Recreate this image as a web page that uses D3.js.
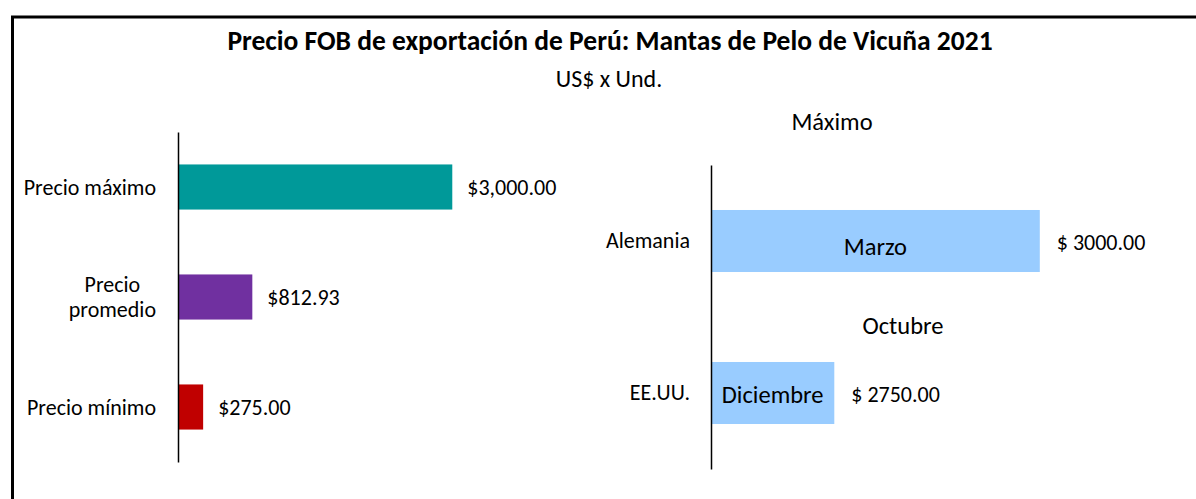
<!DOCTYPE html>
<html>
<head>
<meta charset="utf-8">
<script src="https://cdn.jsdelivr.net/npm/d3@7"></script>
<style>
  body { margin: 0; background: #fff; }
  text { font-family: Carlito, Lato, "Open Sans", sans-serif; fill: #000; }
</style>
</head>
<body>
<div id="chart"></div>
<script>
// panel izquierdo: precios
var precios = ["Precio máximo", "Precio promedio", "Precio mínimo"];
var preciosVal = [3000, 812.93, 275];
var preciosCol = ["#009999", "#7030A0", "#C00000"];
var preciosTxt = ["$3,000.00", "$812.93", "$275.00"];

// panel derecho: máximo por país
var paises = ["Alemania", "EE.UU."];
var paisesVal = [3000, 2750];
var paisesMes = ["Marzo", "Diciembre"];
var paisesTxt = ["$ 3000.00", "$ 2750.00"];
var mesExtra = "Octubre";

var width = 1196, height = 499;
var fs = 22;     // etiquetas
var fsMes = 24.5; // meses y subtitulo del panel

var svg = d3.select("#chart")
  .append("svg")
  .attr("width", width)
  .attr("height", height);

// marco
svg.append("rect")
  .attr("x", 12.5).attr("y", 17)
  .attr("width", width + 20).attr("height", height)
  .attr("fill", "none")
  .attr("stroke", "#000")
  .attr("stroke-width", 3);

svg.append("text")
  .attr("x", 610).attr("y", 40)
  .attr("dy", "0.35em")
  .attr("text-anchor", "middle")
  .style("font-weight", "bold")
  .style("font-size", "27.5px")
  .text("Precio FOB de exportación de Perú: Mantas de Pelo de Vicuña 2021");

svg.append("text")
  .attr("x", 609).attr("y", 79)
  .attr("dy", "0.35em")
  .attr("text-anchor", "middle")
  .style("font-size", "24px")
  .text("US$ x Und.");

// ---- izquierda
var x1 = d3.scaleLinear().domain([0, 3500]).range([178, 498]);
var y1 = d3.scaleBand().domain(precios).range([132, 462])
  .paddingInner(0.59).paddingOuter(0.295);

svg.selectAll(".barP")
  .data(precios)
  .enter().append("rect")
  .attr("class", "barP")
  .attr("x", x1(0))
  .attr("y", d => y1(d))
  .attr("width", (d, i) => x1(preciosVal[i]) - x1(0))
  .attr("height", y1.bandwidth())
  .attr("fill", (d, i) => preciosCol[i]);

svg.selectAll(".valP")
  .data(precios)
  .enter().append("text")
  .attr("class", "valP")
  .attr("x", (d, i) => x1(preciosVal[i]) + 15)
  .attr("y", d => y1(d) + y1.bandwidth() / 2)
  .attr("dy", "0.35em")
  .style("font-size", fs + "px")
  .text((d, i) => preciosTxt[i]);

var axL = svg.append("g")
  .attr("transform", "translate(" + x1(0) + ",0)")
  .call(d3.axisLeft(y1).tickSize(0).tickSizeOuter(0).tickFormat(""));
axL.select(".domain").attr("stroke", "#000").attr("stroke-width", 1.5);

// etiquetas con salto de linea (Precio / promedio)
precios.forEach(function(p) {
  var lines = p == "Precio promedio" ? ["Precio", "promedio"] : [p];
  var t = svg.append("text")
    .attr("text-anchor", "middle")
    .style("font-size", fs + "px");
  var cy = y1(p) + y1.bandwidth() / 2;
  lines.forEach(function(l, k) {
    t.append("tspan")
      .attr("y", cy + (k - (lines.length - 1) / 2) * 25)
      .attr("dy", "0.35em")
      .text(l);
  });
  var w = 0;
  t.selectAll("tspan").each(function() { w = Math.max(w, this.getComputedTextLength()); });
  t.selectAll("tspan").attr("x", x1(0) - 22 - w / 2);
});

// ---- derecha
svg.append("text")
  .attr("x", 832).attr("y", 121)
  .attr("dy", "0.35em")
  .attr("text-anchor", "middle")
  .style("font-size", fsMes + "px")
  .text("Máximo");

var x2 = d3.scaleLinear().domain([2600, 3100]).range([711, 1122]);
var y2 = d3.scaleBand().domain(paises).range([165, 469])
  .paddingInner(0.592).paddingOuter(0.296);

svg.selectAll(".barM")
  .data(paises)
  .enter().append("rect")
  .attr("class", "barM")
  .attr("x", x2.range()[0])
  .attr("y", d => y2(d))
  .attr("width", (d, i) => x2(paisesVal[i]) - x2.range()[0])
  .attr("height", y2.bandwidth())
  .attr("fill", "#99CCFF");

svg.selectAll(".mes")
  .data(paises)
  .enter().append("text")
  .attr("class", "mes")
  .attr("x", (d, i) => (x2.range()[0] + x2(paisesVal[i])) / 2)
  .attr("y", (d, i) => y2(d) + y2.bandwidth() / 2 + (i == 0 ? 5 : 1))
  .attr("dy", "0.35em")
  .attr("text-anchor", "middle")
  .style("font-size", fsMes + "px")
  .text((d, i) => paisesMes[i]);

svg.append("text")
  .attr("x", x2.range()[0] + 192)
  .attr("y", y2("EE.UU.") + y2.bandwidth() / 2 - 68)
  .attr("dy", "0.35em")
  .attr("text-anchor", "middle")
  .style("font-size", fsMes + "px")
  .text(mesExtra);

svg.selectAll(".valM")
  .data(paises)
  .enter().append("text")
  .attr("class", "valM")
  .attr("x", (d, i) => x2(paisesVal[i]) + 17)
  .attr("y", d => y2(d) + y2.bandwidth() / 2 + 1)
  .attr("dy", "0.35em")
  .style("font-size", fs + "px")
  .text((d, i) => paisesTxt[i]);

var axR = svg.append("g")
  .attr("transform", "translate(" + x2.range()[0] + ",0)")
  .call(d3.axisLeft(y2).tickSize(0).tickSizeOuter(0).tickPadding(21));
axR.select(".domain").attr("stroke", "#000").attr("stroke-width", 1.5);
axR.selectAll(".tick text")
  .style("font-size", fs + "px")
  .style("font-family", "Carlito, Lato, 'Open Sans', sans-serif")
  .attr("fill", "#000");
</script>
</body>
</html>
